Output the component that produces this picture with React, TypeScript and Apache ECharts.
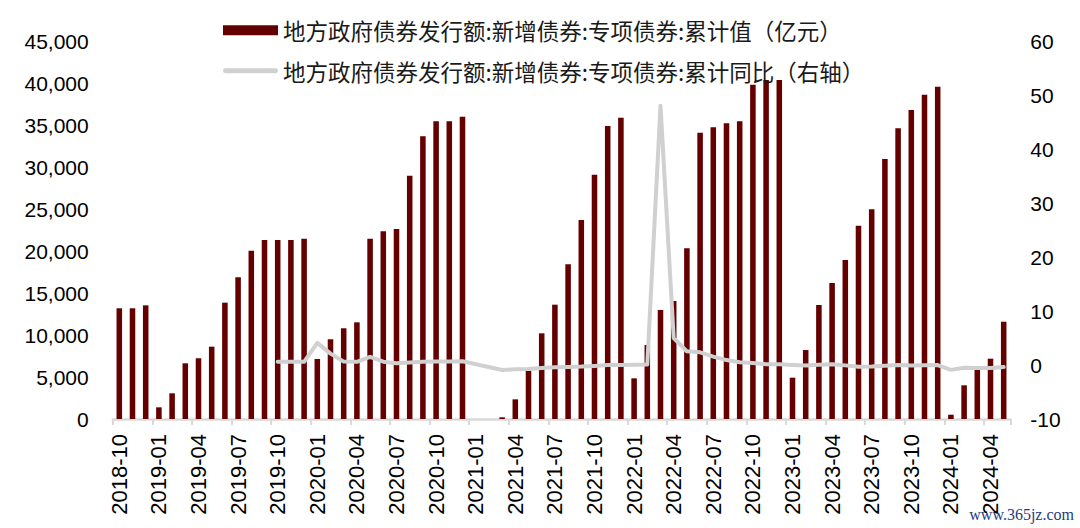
import React, { useEffect, useRef } from "react";
import * as echarts from "echarts";

// Monthly categories 2018-10 .. 2024-05
const startYear = 2018;
const startMonth = 10;
const monthCount = 68;
const categories: string[] = [];
for (let i = 0; i < monthCount; i++) {
  const m = startMonth - 1 + i;
  const y = startYear + Math.floor(m / 12);
  const mm = (m % 12) + 1;
  categories.push(`${y}-${mm < 10 ? "0" + mm : mm}`);
}

// 地方政府债券发行额:新增债券:专项债券:累计值（亿元）
const cumulativeValue: number[] = [
  13180, 13180, 13530,
  1390, 3060, 6630, 7230, 8610, 13850, 16870, 20040, 21310, 21310, 21310, 21470,
  7140, 9490, 10800, 11510, 21470, 22340, 22620, 28960, 33650, 35440, 35440, 35990,
  0, 0, 200, 2340, 5750, 10200, 13610, 18410, 23690, 29080, 34880, 35870,
  4840, 8810, 12980, 14050, 20320, 34090, 34720, 35200, 35440, 39800, 40360, 40360,
  4920, 8210, 13570, 16190, 18930, 23020, 24960, 30950, 34600, 36790, 38610, 39560,
  510, 4010, 5910, 7180, 11580,
];

// 地方政府债券发行额:新增债券:专项债券:累计同比（右轴）
const cumulativeYoY: (number | null)[] = [
  null, null, null,
  null, null, null, null, null, null, null, null, null, 0.62, 0.62, 0.59,
  4.1, 2.1, 0.63, 0.59, 1.49, 0.61, 0.34, 0.45, 0.58, 0.66, 0.66, 0.68,
  null, null, -0.93, -0.8, -0.73, -0.54, -0.4, -0.36, -0.3, -0.18, -0.02, 0.0,
  null, 0.1, 48, 5.0, 2.53, 2.34, 1.55, 0.91, 0.5, 0.37, 0.16, 0.12,
  0.02, -0.07, 0.05, 0.15, -0.07, -0.32, -0.28, -0.12, -0.02, -0.08, -0.04, -0.02,
  -0.9, -0.51, -0.56, -0.56, -0.39,
];

const barName = "地方政府债券发行额:新增债券:专项债券:累计值（亿元）";
const lineName = "地方政府债券发行额:新增债券:专项债券:累计同比（右轴）";

export default function App() {
  const ref = useRef<HTMLDivElement>(null);
  useEffect(() => {
    if (!ref.current) return;
    const chart = echarts.init(ref.current, undefined, { renderer: "svg" });
    const numFont = "'Liberation Sans', Arial, sans-serif";
    chart.setOption({
      animation: false,
      backgroundColor: "#ffffff",
      legend: {
        orient: "vertical",
        left: 223,
        top: 19,
        padding: 0,
        itemWidth: 55,
        itemHeight: 10,
        itemGap: 18,
        textStyle: {
          fontSize: 22.5,
          lineHeight: 22,
          color: "#1a1a1a",
          fontFamily: "'Noto Sans CJK SC', sans-serif",
        },
        data: [
          { name: barName, icon: "rect" },
          {
            name: lineName,
            icon: "path://M2,0 L53,0 A2.5,2.5 0 0 1 53,5 L2,5 A2.5,2.5 0 0 1 2,0 Z",
            itemStyle: { color: "#d0d0d0" },
          },
        ],
      },
      grid: { left: 112.7, right: 69.7, top: 41, bottom: 109, containLabel: false },
      xAxis: {
        type: "category",
        data: categories,
        boundaryGap: true,
        axisLine: { show: true, lineStyle: { color: "#d9d9d9", width: 2.5 } },
        axisTick: { show: true, interval: 2, length: 6, lineStyle: { color: "#d9d9d9", width: 2 } },
        axisLabel: {
          interval: 2,
          rotate: 90,
          margin: 15,
          fontSize: 22,
          color: "#000",
          fontFamily: numFont,
        },
      },
      yAxis: [
        {
          type: "value",
          min: 0,
          max: 45000,
          interval: 5000,
          splitLine: { show: false },
          axisLine: { show: false },
          axisTick: { show: false },
          axisLabel: {
            margin: 24,
            fontSize: 21,
            color: "#000",
            fontFamily: numFont,
            formatter: (v: number) => v.toLocaleString("en-US"),
          },
        },
        {
          type: "value",
          min: -10,
          max: 60,
          interval: 10,
          splitLine: { show: false },
          axisLine: { show: false },
          axisTick: { show: false },
          axisLabel: {
            margin: 20,
            fontSize: 21,
            color: "#000",
            fontFamily: numFont,
          },
        },
      ],
      series: [
        {
          name: barName,
          type: "bar",
          data: cumulativeValue,
          barWidth: "42%",
          itemStyle: { color: "#640000" },
          yAxisIndex: 0,
        },
        {
          name: lineName,
          type: "line",
          data: cumulativeYoY,
          yAxisIndex: 1,
          connectNulls: true,
          symbol: "none",
          lineStyle: { color: "#d0d0d0", width: 4, cap: "round", join: "round" },
          itemStyle: { color: "#d0d0d0" },
          z: 3,
        },
      ],
      graphic: [
        {
          type: "text",
          right: 6,
          bottom: 6,
          style: {
            text: "www.365jz.com",
            fill: "#1f3c78",
            font: "16px 'Liberation Serif', serif",
          },
        },
      ],
    });
    return () => chart.dispose();
  }, []);
  return (
    <div
      ref={ref}
      style={{ position: "fixed", left: 0, top: 0, width: 1080, height: 528 }}
    />
  );
}
